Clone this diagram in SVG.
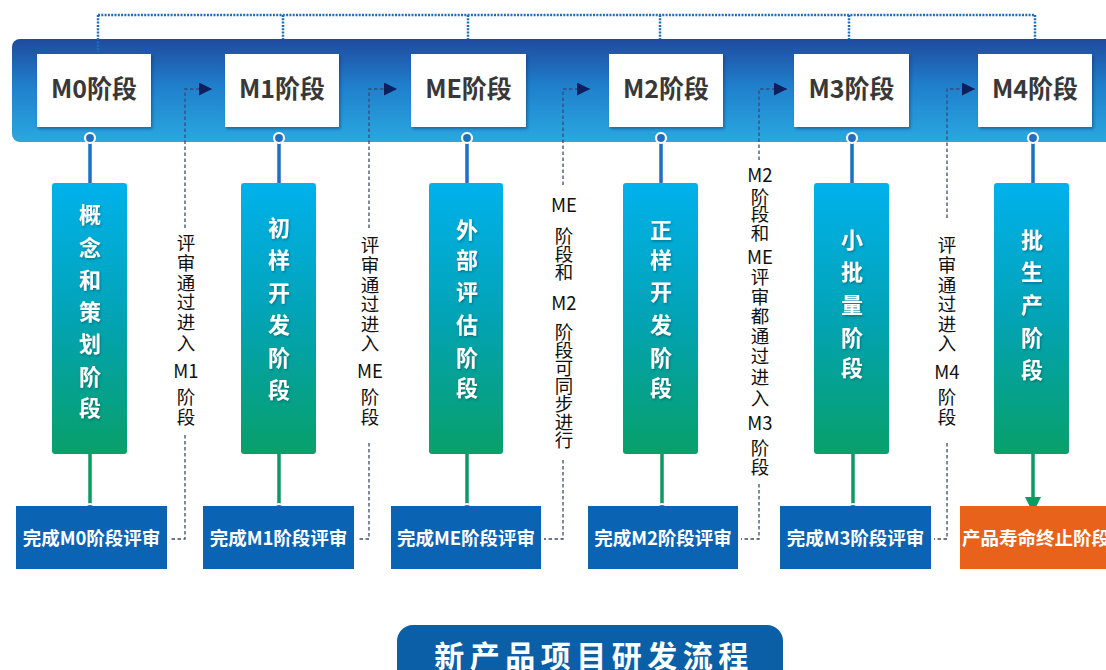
<svg xmlns="http://www.w3.org/2000/svg" width="1106" height="670" viewBox="0 0 1106 670">
<defs>
<linearGradient id="barG" x1="0" y1="0" x2="0" y2="1">
<stop offset="0" stop-color="#1f4a9e"/>
<stop offset="0.45" stop-color="#1f7fcc"/>
<stop offset="1" stop-color="#2aa8e0"/>
</linearGradient>
<linearGradient id="colG" x1="0" y1="0" x2="0" y2="1">
<stop offset="0" stop-color="#00b1ec"/>
<stop offset="0.5" stop-color="#02a3b4"/>
<stop offset="1" stop-color="#08a06a"/>
</linearGradient>
<filter id="sh" x="-10%" y="-10%" width="130%" height="140%">
<feDropShadow dx="1.5" dy="2" stdDeviation="1.5" flood-color="#0a2a60" flood-opacity="0.45"/>
</filter>
<filter id="tsh" x="-20%" y="-20%" width="150%" height="150%">
<feDropShadow dx="1" dy="1.5" stdDeviation="1" flood-color="#0a3a50" flood-opacity="0.45"/>
</filter>
<marker id="tri" viewBox="0 0 10 10" refX="10" refY="5" markerWidth="13" markerHeight="13" markerUnits="userSpaceOnUse" orient="auto">
<path d="M0,0 L10,5 L0,10 Z" fill="#0d1f5c"/>
</marker>
</defs>
<style>
.top{fill:#fff;filter:url(#sh)}
.topt{font-family:"Noto Sans CJK SC","Liberation Sans",sans-serif;font-size:25px;font-weight:bold;fill:#383838;text-anchor:middle}
.col{fill:url(#colG)}
.colt{font-family:"Noto Sans CJK SC","Liberation Sans",sans-serif;font-size:22px;font-weight:bold;fill:#fff;text-anchor:middle;filter:url(#tsh)}
.bot{fill:#0b63b4}
.org{fill:#e8621c}
.bott{font-family:"Noto Sans CJK SC","Liberation Sans",sans-serif;font-size:18.5px;font-weight:bold;fill:#fff;text-anchor:middle}
.lab{font-family:"Noto Sans CJK SC","Liberation Sans",sans-serif;font-size:18.5px;fill:#111;text-anchor:middle}
.dot{fill:none;stroke:#1c6fc0;stroke-width:2.5;stroke-dasharray:2 1.3}
.dash{fill:none;stroke:#3a4a78;stroke-width:1.3;stroke-dasharray:3.5 2.5}
.bl{stroke:#1a72c0;stroke-width:3.5}
.gl{stroke:#0a9b63;stroke-width:3.5}
.bc{fill:#1a72c0;stroke:#fff;stroke-width:2.2}
.gc{fill:#0a9b63;stroke:#fff;stroke-width:2.2}
</style>
<rect x="12" y="39" width="1110" height="103" rx="8" fill="url(#barG)"/>
<g id="connectors">
<path class="dot" d="M98,15 H1035 M98,15 V52 M283,15 V39 M468,15 V39 M660,15 V39 M849,15 V39 M1035,15 V39"/>
<path class="bl" d="M90,138 V183 M279,138 V183 M467,138 V183 M661,138 V183 M852,138 V183 M1033,138 V183"/>
<path class="gl" d="M90,454 V509 M279,454 V509 M467,454 V509 M662,454 V509 M853,454 V509 M1033,454 V500"/>
<path d="M1025,497 L1041,497 L1033,513 Z" fill="#0a9b63"/>
<g>
<circle class="bc" cx="90" cy="138" r="5"/><circle class="bc" cx="279" cy="138" r="5"/><circle class="bc" cx="467" cy="138" r="5"/><circle class="bc" cx="661" cy="138" r="5"/><circle class="bc" cx="852" cy="138" r="5"/><circle class="bc" cx="1033" cy="138" r="5"/>
<circle class="gc" cx="90" cy="509" r="5"/><circle class="gc" cx="279" cy="509" r="5"/><circle class="gc" cx="467" cy="509" r="5"/><circle class="gc" cx="662" cy="509" r="5"/><circle class="gc" cx="853" cy="509" r="5"/>
</g>
<path class="dash" d="M185,228 V89 H212" marker-end="url(#tri)"/>
<path class="dash" d="M185,435 V539 H170"/>
<path class="dash" d="M369,228 V89 H397" marker-end="url(#tri)"/>
<path class="dash" d="M369,443 V539 H357"/>
<path class="dash" d="M563,185 V89 H590" marker-end="url(#tri)"/>
<path class="dash" d="M563,460 V539 H544"/>
<path class="dash" d="M759,160 V89 H787" marker-end="url(#tri)"/>
<path class="dash" d="M759,484 V539 H741"/>
<path class="dash" d="M947,218 V89 H975" marker-end="url(#tri)"/>
<path class="dash" d="M947,443 V539 H934"/>
</g>
<g id="m0"><rect class="top" x="37" y="54" width="114" height="73"/><text class="topt" x="94" y="98">M0阶段</text></g>
<g id="m1"><rect class="top" x="225" y="54" width="114" height="73"/><text class="topt" x="282" y="98">M1阶段</text></g>
<g id="me"><rect class="top" x="411" y="54" width="115" height="73"/><text class="topt" x="468.5" y="98">ME阶段</text></g>
<g id="m2"><rect class="top" x="609" y="54" width="114" height="73"/><text class="topt" x="666" y="98">M2阶段</text></g>
<g id="m3"><rect class="top" x="794" y="54" width="115" height="73"/><text class="topt" x="851.5" y="98">M3阶段</text></g>
<g id="m4"><rect class="top" x="978" y="54" width="114" height="73"/><text class="topt" x="1035" y="98">M4阶段</text></g>
<g id="c0"><rect class="col" x="52" y="183" width="75" height="271" rx="3"/>
<text class="colt"><tspan x="90" y="223">概</tspan><tspan x="90" y="256">念</tspan><tspan x="90" y="288">和</tspan><tspan x="90" y="320">策</tspan><tspan x="90" y="352">划</tspan><tspan x="90" y="385">阶</tspan><tspan x="90" y="416">段</tspan></text></g>
<g id="c1"><rect class="col" x="241" y="183" width="75" height="271" rx="3"/>
<text class="colt"><tspan x="279" y="236">初</tspan><tspan x="279" y="268">样</tspan><tspan x="279" y="301">开</tspan><tspan x="279" y="333">发</tspan><tspan x="279" y="366">阶</tspan><tspan x="279" y="398">段</tspan></text></g>
<g id="c2"><rect class="col" x="429" y="183" width="74" height="271" rx="3"/>
<text class="colt"><tspan x="467" y="238">外</tspan><tspan x="467" y="268">部</tspan><tspan x="467" y="300">评</tspan><tspan x="467" y="333">估</tspan><tspan x="467" y="366">阶</tspan><tspan x="467" y="396">段</tspan></text></g>
<g id="c3"><rect class="col" x="623" y="183" width="75" height="271" rx="3"/>
<text class="colt"><tspan x="661" y="238">正</tspan><tspan x="661" y="268">样</tspan><tspan x="661" y="300">开</tspan><tspan x="661" y="333">发</tspan><tspan x="661" y="366">阶</tspan><tspan x="661" y="396">段</tspan></text></g>
<g id="c4"><rect class="col" x="814" y="183" width="75" height="271" rx="3"/>
<text class="colt"><tspan x="852" y="248">小</tspan><tspan x="852" y="280">批</tspan><tspan x="852" y="313">量</tspan><tspan x="852" y="346">阶</tspan><tspan x="852" y="376">段</tspan></text></g>
<g id="c5"><rect class="col" x="994" y="183" width="75" height="271" rx="3"/>
<text class="colt"><tspan x="1032" y="248">批</tspan><tspan x="1032" y="280">生</tspan><tspan x="1032" y="313">产</tspan><tspan x="1032" y="346">阶</tspan><tspan x="1032" y="378">段</tspan></text></g>
<g id="l1"><text class="lab"><tspan x="186" y="250">评</tspan><tspan x="186" y="270">审</tspan><tspan x="186" y="290">通</tspan><tspan x="186" y="309">过</tspan><tspan x="186" y="329">进</tspan><tspan x="186" y="350">入</tspan><tspan x="186" y="378">M1</tspan><tspan x="186" y="404">阶</tspan><tspan x="186" y="424">段</tspan></text></g>
<g id="l2"><text class="lab"><tspan x="370" y="252">评</tspan><tspan x="370" y="272">审</tspan><tspan x="370" y="292">通</tspan><tspan x="370" y="311">过</tspan><tspan x="370" y="331">进</tspan><tspan x="370" y="350">入</tspan><tspan x="370" y="378">ME</tspan><tspan x="370" y="404">阶</tspan><tspan x="370" y="424">段</tspan></text></g>
<g id="l3"><text class="lab"><tspan x="564" y="212">ME</tspan><tspan x="564" y="243">阶</tspan><tspan x="564" y="261">段</tspan><tspan x="564" y="279">和</tspan><tspan x="564" y="310">M2</tspan><tspan x="564" y="339">阶</tspan><tspan x="564" y="357">段</tspan><tspan x="564" y="375">可</tspan><tspan x="564" y="393">同</tspan><tspan x="564" y="411">步</tspan><tspan x="564" y="429">进</tspan><tspan x="564" y="447">行</tspan></text></g>
<g id="l4"><text class="lab"><tspan x="760" y="182">M2</tspan><tspan x="760" y="204">阶</tspan><tspan x="760" y="221">段</tspan><tspan x="760" y="240">和</tspan><tspan x="760" y="264">ME</tspan><tspan x="760" y="284">评</tspan><tspan x="760" y="304">审</tspan><tspan x="760" y="323">都</tspan><tspan x="760" y="343">通</tspan><tspan x="760" y="363">过</tspan><tspan x="760" y="384">进</tspan><tspan x="760" y="405">入</tspan><tspan x="760" y="430">M3</tspan><tspan x="760" y="455">阶</tspan><tspan x="760" y="474">段</tspan></text></g>
<g id="l5"><text class="lab"><tspan x="947" y="252">评</tspan><tspan x="947" y="272">审</tspan><tspan x="947" y="292">通</tspan><tspan x="947" y="311">过</tspan><tspan x="947" y="331">进</tspan><tspan x="947" y="350">入</tspan><tspan x="947" y="379">M4</tspan><tspan x="947" y="404">阶</tspan><tspan x="947" y="424">段</tspan></text></g>
<g id="b0"><rect class="bot" x="16" y="506" width="151" height="63"/><text class="bott" x="91.5" y="545">完成M0阶段评审</text></g>
<g id="b1"><rect class="bot" x="203" y="506" width="151" height="63"/><text class="bott" x="278.5" y="545">完成M1阶段评审</text></g>
<g id="b2"><rect class="bot" x="391" y="506" width="150" height="63"/><text class="bott" x="466" y="545">完成ME阶段评审</text></g>
<g id="b3"><rect class="bot" x="588" y="506" width="150" height="63"/><text class="bott" x="663" y="545">完成M2阶段评审</text></g>
<g id="b4"><rect class="bot" x="780" y="506" width="151" height="63"/><text class="bott" x="855.5" y="545">完成M3阶段评审</text></g>
<g id="b5"><rect class="org" x="960" y="506" width="151" height="63"/><text class="bott" x="1036" y="545">产品寿命终止阶段</text></g>
<g id="title"><rect x="397" y="625" width="386" height="70" rx="16" fill="#0a5fa6"/><text x="594" y="667" font-family="'Noto Sans CJK SC','Liberation Sans',sans-serif" font-size="30" font-weight="bold" fill="#fff" text-anchor="middle" letter-spacing="5.5">新产品项目研发流程</text></g>
</svg>
